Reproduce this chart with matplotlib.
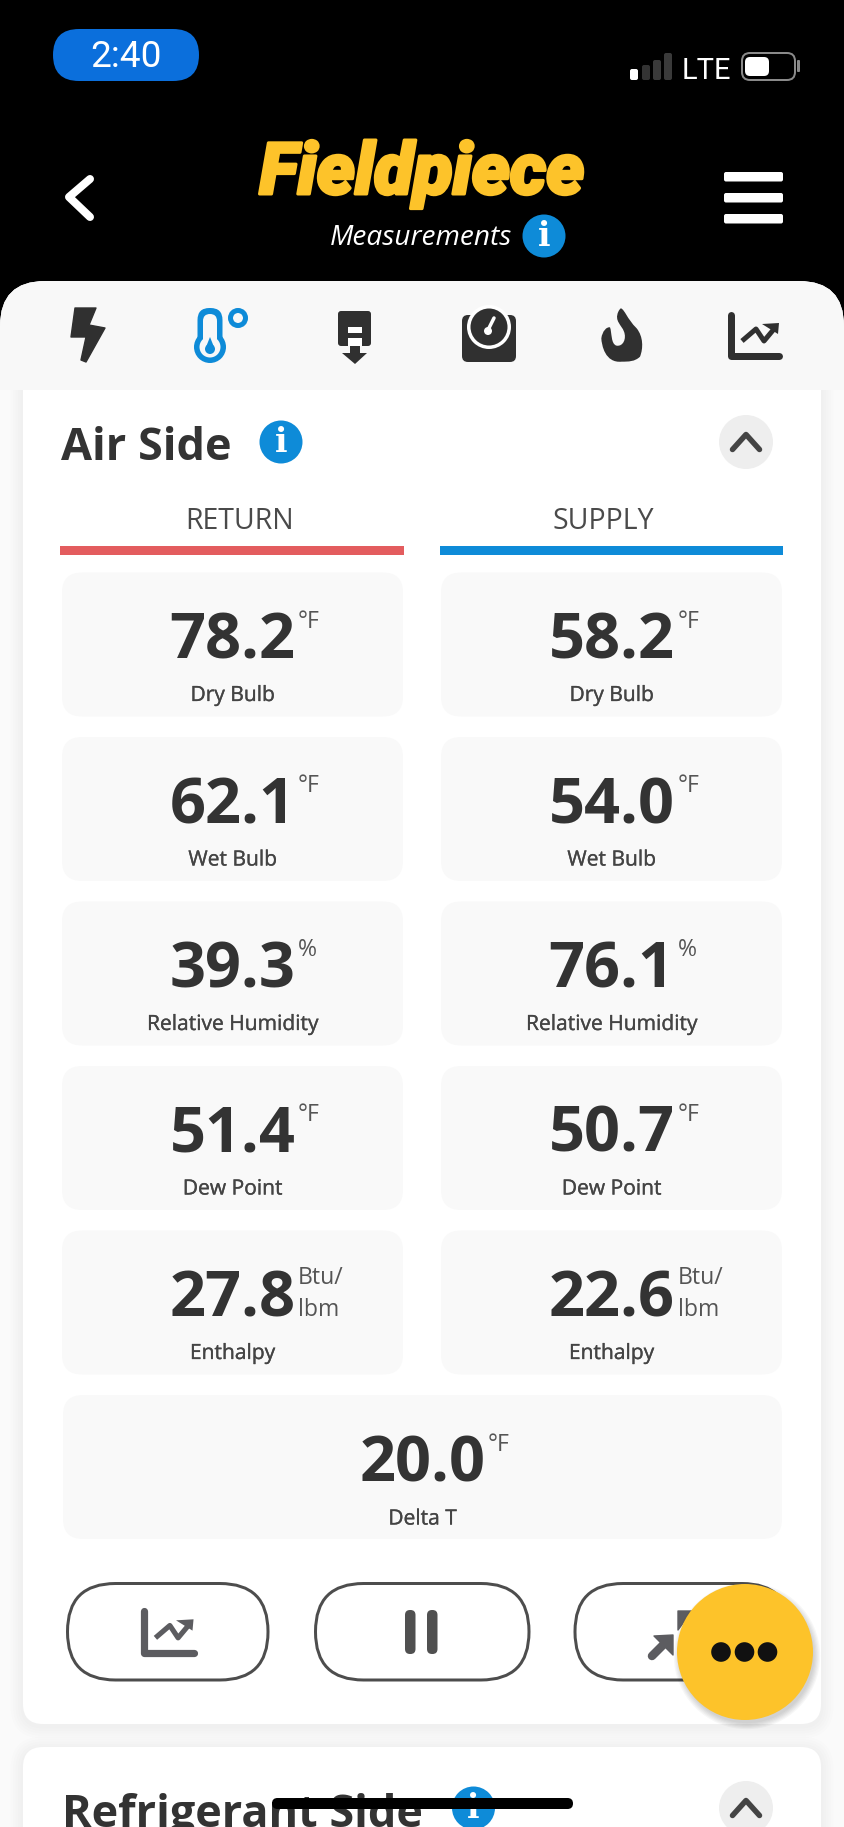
import matplotlib
matplotlib.use("Agg")
import matplotlib.pyplot as plt
from matplotlib.patches import Circle, FancyBboxPatch, PathPatch, Polygon, Rectangle
from matplotlib.path import Path
import matplotlib.patheffects as pe

W, H = 844, 1827

# what the screen shows
row_labels = ["Dry Bulb", "Wet Bulb", "Relative Humidity", "Dew Point", "Enthalpy"]
return_values = [78.2, 62.1, 39.3, 51.4, 27.8]
supply_values = [58.2, 54.0, 76.1, 50.7, 22.6]
row_units = ["°F", "°F", "%", "°F", "Btu/\nlbm"]
delta_label = "Delta T"
delta_value = 20.0
delta_unit = "°F"

DARK = "#333333"
ICON = "#303030"
BLUE = "#0e8bd8"
RED = "#e35c5e"
YELLOW = "#fdc32a"
GREY = "#5c5c60"
PANEL = "#f8f8f8"
TILE = "#f9f9f9"


def px(size):
    # figure is 100 dpi, sizes below are in image pixels
    return size * 0.72


def rbox(ax, x0, y0, x1, y1, r, fc="none", ec="none", lw=0, z=1, alpha=None):
    patch = FancyBboxPatch((x0 + r, y0 + r), x1 - x0 - 2 * r, y1 - y0 - 2 * r,
                           boxstyle=f"round,pad={r},rounding_size={r}",
                           fc=fc, ec=ec, lw=px(lw), zorder=z, alpha=alpha)
    ax.add_patch(patch)
    return patch


def line(ax, xs, ys, color, lw, z=5, cap="round"):
    ax.plot(xs, ys, color=color, lw=px(lw), solid_capstyle=cap,
            solid_joinstyle="round", zorder=z)


def shadow(ax, x0, y0, x1, y1, r, z, steps=5, spread=2.5, dy=2, alpha=0.006):
    for i in range(steps, 0, -1):
        d = i * spread
        rbox(ax, x0 - d, y0 - d + dy, x1 + d, y1 + d + dy, r + d, fc="black", z=z, alpha=alpha)


def info_icon(ax, cx, cy, z=6):
    ax.add_patch(Circle((cx, cy), 21.5, fc=BLUE, ec="none", zorder=z))
    ax.text(cx, cy + 1, "i", color="white", fontsize=px(33), family="DejaVu Serif",
            weight="bold", ha="center", va="center", zorder=z + 1)


def collapse_button(ax, cx, cy):
    ax.add_patch(Circle((cx, cy), 27, fc="#eeeeee", ec="none", zorder=5))
    line(ax, [cx - 13.5, cx, cx + 13.5], [cy + 7.5, cy - 7.5, cy + 7.5], "#444444", 5.5, z=6)


def chart_icon(ax, x0, y0, scale, color):
    def X(v):
        return x0 + v * scale

    def Y(v):
        return y0 + v * scale

    line(ax, [X(3), X(3), X(51)], [Y(2), Y(43), Y(43)], color, 7 * scale, cap="round")
    line(ax, [X(14), X(28), X(36), X(46)], [Y(28), Y(16), Y(28), Y(16)], color, 5 * scale, cap="butt")
    ax.add_patch(Polygon([(X(34), Y(11)), (X(51), Y(10)), (X(50), Y(21))], fc=color, ec="none", zorder=5))


def flame(ax):
    pts = [(543, 40), (555, 45), (560, 70), (590, 100), (610, 125), (610, 160), (600, 185),
           (585, 200), (565, 200), (545, 200), (495, 205), (485, 150), (484, 130), (487, 108),
           (500, 95), (510, 97), (516, 112), (512, 148), (530, 152), (550, 155), (560, 130),
           (552, 110), (545, 90), (522, 78), (535, 50), (538, 44), (540, 41), (543, 40), (543, 40)]
    verts = [(440 + x / 3, 295 + y / 3) for x, y in pts]
    codes = [Path.MOVETO] + [Path.CURVE4] * 27 + [Path.CLOSEPOLY]
    ax.add_patch(PathPatch(Path(verts, codes), fc=ICON, ec="none", zorder=5))


def top_icons(ax):
    # bolt
    ax.add_patch(Polygon([(75, 308), (96, 308), (89, 325), (105, 328), (86, 362), (81, 360),
                          (86, 337), (71, 337)], fc=ICON, ec=ICON, lw=1, joinstyle="round", zorder=5))

    # thermometer
    ax.add_patch(Circle((210, 347), 16, fc=BLUE, ec="none", zorder=5))
    rbox(ax, 197.5, 308, 222.5, 352, 12, fc=BLUE, z=5)
    rbox(ax, 203, 314, 217, 352, 7, fc=PANEL, z=6)
    ax.add_patch(Circle((210, 347), 10.5, fc=PANEL, ec="none", zorder=6))
    ax.add_patch(Circle((210, 349), 5, fc=BLUE, ec="none", zorder=7))
    ax.add_patch(Polygon([(210, 337), (206, 347), (214, 347)], fc=BLUE, ec="none", zorder=7))
    ax.add_patch(Circle((238, 318), 7.5, fc="none", ec=BLUE, lw=px(5), zorder=5))

    # probe with arrow
    rbox(ax, 338, 311, 371, 346, 3, fc=ICON, z=5)
    ax.add_patch(Rectangle((348, 327), 14, 6, fc="white", ec="none", zorder=6))
    ax.add_patch(Rectangle((348, 338), 14, 8, fc="white", ec="none", zorder=6))
    ax.add_patch(Rectangle((350, 346), 10, 8, fc=ICON, ec="none", zorder=5))
    ax.add_patch(Polygon([(342, 353), (367, 353), (355, 364)], fc=ICON, ec="none", zorder=5))

    # scale
    rbox(ax, 462, 315, 516, 362, 6, fc=ICON, z=5)
    ax.add_patch(Circle((489, 327), 22, fc="white", ec="none", zorder=6))
    ax.add_patch(Circle((489, 327), 18.5, fc=ICON, ec="none", zorder=7))
    line(ax, [488, 494], [330, 318], "white", 3.5, z=8)
    ax.add_patch(Circle((488, 331), 4, fc="white", ec="none", zorder=8))

    flame(ax)
    chart_icon(ax, 728, 313, 1.0, ICON)


def status_bar(ax):
    rbox(ax, 53, 29, 199, 81, 26, fc="#0b6fdc", z=3)
    ax.text(125.5, 67, "2:40", color="white", fontsize=px(37), family="Roboto",
            ha="center", va="baseline", zorder=4)

    bar_x = [630, 642, 653, 664]
    bar_top = [69, 65, 60, 53]
    bar_col = ["white", "#333333", "#3a3a3a", "#3a3a3a"]
    for x, top, col in zip(bar_x, bar_top, bar_col):
        rbox(ax, x, top, x + 8, 80, 2, fc=col, z=3)
    ax.text(706.5, 79, "LTE", color="white", fontsize=px(29), family="Roboto",
            ha="center", va="baseline", zorder=4)

    rbox(ax, 742, 53, 795, 80, 8, ec="#8a8a8a", lw=2, z=3)
    rbox(ax, 745, 57, 769, 76, 5, fc="white", z=4)
    rbox(ax, 797, 60, 800, 72, 1, fc="#8a8a8a", z=3)


def header(ax):
    line(ax, [90, 69, 90], [179, 197, 217], "white", 8, z=4)
    for top in (172, 193, 214):
        rbox(ax, 724, top, 783, top + 9.5, 2, fc="white", z=4)

    ax.text(422, 194, "Fieldpiece", color=YELLOW, fontsize=px(72), family="Roboto",
            weight=900, style="italic", ha="center", va="baseline", zorder=4,
            path_effects=[pe.withStroke(linewidth=px(3), foreground=YELLOW)])
    ax.text(421.5, 245, "Measurements", color="white", fontsize=px(28), family="Open Sans",
            style="italic", ha="center", va="baseline", zorder=4)
    info_icon(ax, 544, 236)


def tile(ax, x0, x1, top, label, value, unit, unit_x, dy=0):
    cx = (x0 + x1) / 2
    rbox(ax, x0, top, x1, top + 144, 20, fc=TILE, z=2)
    ax.text(cx, top + dy + 86, f"{value:.1f}", color=DARK, fontsize=px(63), family="Open Sans",
            weight="bold", ha="center", va="baseline", zorder=4)
    ax.text(cx, top + dy + 128.5, label, color="#444444", fontsize=px(21), family="Open Sans",
            ha="center", va="baseline", zorder=4,
            path_effects=[pe.withStroke(linewidth=px(0.3), foreground="#444444")])
    if "\n" in unit:
        first, second = unit.split("\n")
        ax.text(unit_x, top + 54, first, color="#555555", fontsize=px(23), family="Open Sans",
                ha="left", va="baseline", zorder=4)
        ax.text(unit_x, top + 85, second, color="#555555", fontsize=px(23), family="Open Sans",
                ha="left", va="baseline", zorder=4)
    else:
        ax.text(unit_x, top + dy + 55, unit, color="#555555", fontsize=px(23), family="Open Sans",
                ha="left", va="baseline", zorder=4)


def main():
    fig = plt.figure(figsize=(W / 100, H / 100), dpi=100, facecolor="black")
    ax = fig.add_axes([0, 0, 1, 1])
    ax.set_xlim(0, W)
    ax.set_ylim(H, 0)
    ax.axis("off")

    # panel, cards and the icon strip on top of them
    rbox(ax, 0, 281, W, H + 80, 45, fc="#fafafa", z=1)
    shadow(ax, 23, 340, 821, 1724, 20, 1.2)
    rbox(ax, 23, 340, 821, 1724, 20, fc="white", z=1.5)
    shadow(ax, 23, 1747, 821, H + 60, 20, 1.2)
    rbox(ax, 23, 1747, 821, H + 60, 20, fc="white", z=1.5)
    ax.add_patch(Rectangle((0, 326), W, 64, fc=PANEL, ec="none", zorder=1.8))
    rbox(ax, 0, 281, W, 388, 45, fc=PANEL, z=1.7)

    status_bar(ax)
    header(ax)
    top_icons(ax)

    ax.text(61, 460, "Air Side", color=DARK, fontsize=px(45), family="Open Sans",
            weight="bold", ha="left", va="baseline", zorder=4)
    info_icon(ax, 281, 442)
    collapse_button(ax, 746, 442)

    ax.text(239.5, 529, "RETURN", color="#4a4a4a", fontsize=px(28.5), family="Open Sans",
            ha="center", va="baseline", zorder=4)
    ax.text(603, 529, "SUPPLY", color="#4a4a4a", fontsize=px(28.5), family="Open Sans",
            ha="center", va="baseline", zorder=4)
    ax.add_patch(Rectangle((60, 546), 344, 8.5, fc=RED, ec="none", zorder=3))
    ax.add_patch(Rectangle((440, 546), 343, 8.5, fc=BLUE, ec="none", zorder=3))

    for i, label in enumerate(row_labels):
        top = 572.5 + 164.5 * i
        tile(ax, 62, 403, top, label, return_values[i], row_units[i], 298)
        tile(ax, 441, 782, top, label, supply_values[i], row_units[i], 678)
    tile(ax, 63, 782, 1395, delta_label, delta_value, delta_unit, 488, dy=1)

    # bottom buttons
    rbox(ax, 67.5, 1583.5, 268, 1680, 48, fc="white", ec="#4d4d4d", lw=3, z=3)
    rbox(ax, 315.5, 1583.5, 529, 1680, 48, fc="white", ec="#4d4d4d", lw=3, z=3)
    rbox(ax, 575, 1583.5, 790, 1680, 48, fc="white", ec="#4d4d4d", lw=3, z=3)
    chart_icon(ax, 141, 1609, 1.03, GREY)
    for x in (405, 427):
        rbox(ax, x, 1610, x + 10.5, 1654, 5, fc="#505050", z=5)
    # shrink arrows, the right one mostly sits under the yellow button
    line(ax, [652, 666], [1656, 1642], GREY, 8.5, z=5)
    ax.add_patch(Polygon([(654, 1636), (673, 1635), (673, 1655)], fc=GREY, ec=GREY, lw=1,
                         joinstyle="round", zorder=5))
    ax.add_patch(Polygon([(678, 1611), (678, 1630), (692, 1611)], fc=GREY, ec=GREY, lw=1,
                         joinstyle="round", zorder=5))

    # yellow round menu button
    for i in range(6, 0, -1):
        ax.add_patch(Circle((747, 1656), 66 + i * 1.2, fc="black", ec="none", alpha=0.03, zorder=6))
    ax.add_patch(Circle((745, 1652), 68, fc=YELLOW, ec="none", zorder=7))
    for x in (721, 744.5, 767.5):
        ax.add_patch(Circle((x, 1652), 9.8, fc="#111111", ec="none", zorder=8))

    # next card, cut by the screen edge
    ax.text(62, 1827, "Refrigerant Side", color=DARK, fontsize=px(45), family="Open Sans",
            weight="bold", ha="left", va="baseline", zorder=4, clip_on=True)
    info_icon(ax, 473.5, 1808)
    collapse_button(ax, 746, 1808)
    rbox(ax, 272, 1798, 573, 1809, 5.5, fc="black", z=9)

    fig.savefig("out.png", dpi=100, facecolor="black")


if __name__ == '__main__':
    main()
